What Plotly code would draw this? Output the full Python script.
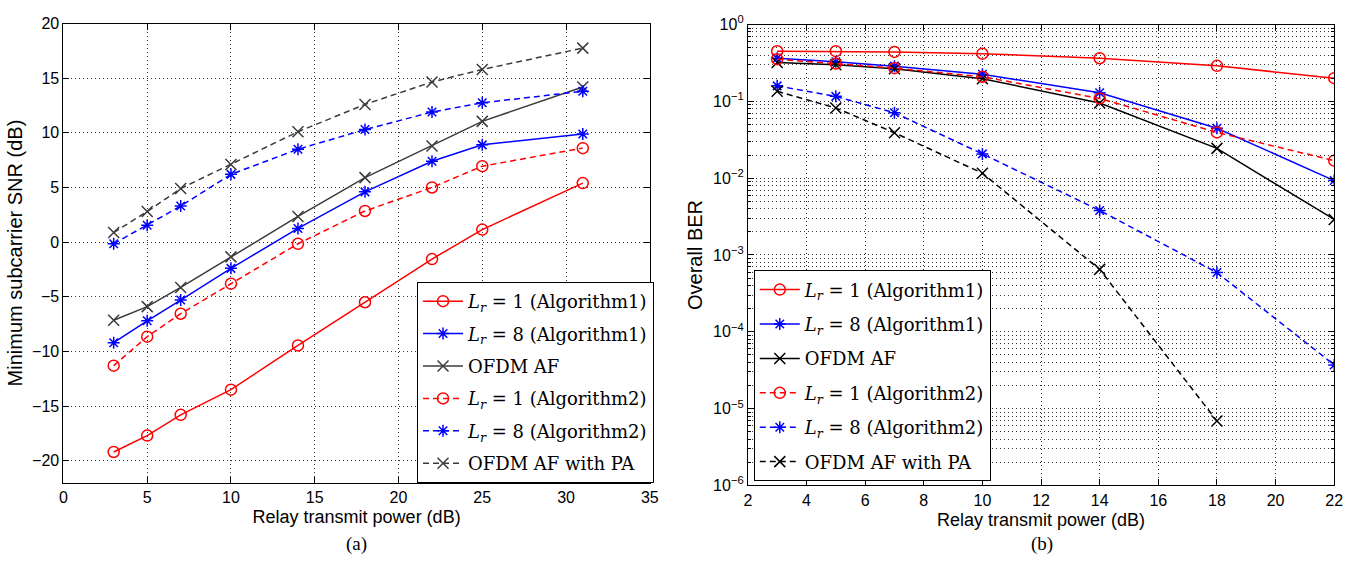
import plotly.graph_objects as go

# ---------------- data: panel (a) ----------------
snr_x = [3, 5, 7, 10, 14, 18, 22, 25, 31]
snr_lr1_alg1 = [-19.2, -17.7, -15.8, -13.5, -9.45, -5.5, -1.55, 1.15, 5.4]
snr_lr8_alg1 = [-9.2, -7.2, -5.3, -2.4, 1.25, 4.6, 7.4, 8.9, 9.9]
snr_ofdm_af = [-7.15, -5.9, -4.15, -1.35, 2.35, 5.9, 8.8, 11.05, 14.2]
snr_lr1_alg2 = [-11.3, -8.65, -6.55, -3.8, -0.15, 2.85, 5.0, 6.95, 8.6]
snr_lr8_alg2 = [-0.15, 1.55, 3.3, 6.2, 8.5, 10.3, 11.9, 12.75, 13.8]
snr_ofdm_pa = [0.88, 2.8, 4.9, 7.1, 10.1, 12.6, 14.65, 15.8, 17.75]

# ---------------- data: panel (b) ----------------
ber_x = [3, 5, 7, 10, 14, 18, 22]
ber_lr1_alg1 = [0.45, 0.45, 0.44, 0.417, 0.364, 0.29, 0.20]
ber_lr8_alg1 = [0.364, 0.327, 0.287, 0.225, 0.129, 0.0447, 0.0093]
ber_ofdm_af = [0.32, 0.30, 0.265, 0.197, 0.095, 0.0244, 0.0029]
ber_lr1_alg2 = [0.354, 0.31, 0.27, 0.209, 0.109, 0.0394, 0.0169]
ber_lr8_alg2 = [0.159, 0.116, 0.071, 0.0207, 0.0038, 0.00059, 0.000037]
ber_pa_x = [3, 5, 7, 10, 14, 18]
ber_ofdm_pa = [0.135, 0.082, 0.039, 0.0116, 0.00065, 0.0000069]

legend_names = [
    "<i>L</i><sub><i>r</i></sub> = 1 (Algorithm1)",
    "<i>L</i><sub><i>r</i></sub> = 8 (Algorithm1)",
    "OFDM AF",
    "<i>L</i><sub><i>r</i></sub> = 1 (Algorithm2)",
    "<i>L</i><sub><i>r</i></sub> = 8 (Algorithm2)",
    "OFDM AF with PA",
]

RED = "#ff0000"
BLUE = "#0000ff"
GRAY = "#3c3c3c"
BLACK = "#000000"
DASH = "6px,4px"

styles = [
    (RED, "solid", "circle-open", 11),
    (BLUE, "solid", "asterisk-open", 10),
    (None, "solid", "x-thin-open", 11),
    (RED, DASH, "circle-open", 11),
    (BLUE, DASH, "asterisk-open", 10),
    (None, DASH, "x-thin-open", 11),
]

fig = go.Figure()

left_series = [snr_lr1_alg1, snr_lr8_alg1, snr_ofdm_af, snr_lr1_alg2, snr_lr8_alg2, snr_ofdm_pa]
for i, ys in enumerate(left_series):
    col, dash, sym, sz = styles[i]
    col = col or GRAY
    fig.add_trace(go.Scatter(
        x=snr_x, y=ys, mode="lines+markers", name=legend_names[i],
        line=dict(color=col, width=1.5, dash=dash),
        marker=dict(symbol=sym, size=sz, color=col, line=dict(width=1.5, color=col)),
        xaxis="x", yaxis="y", legend="legend", legendgroup="a%d" % i,
    ))

right_series = [
    (ber_x, ber_lr1_alg1), (ber_x, ber_lr8_alg1), (ber_x, ber_ofdm_af),
    (ber_x, ber_lr1_alg2), (ber_x, ber_lr8_alg2), (ber_pa_x, ber_ofdm_pa),
]
for i, (xs, ys) in enumerate(right_series):
    col, dash, sym, sz = styles[i]
    col = col or BLACK
    fig.add_trace(go.Scatter(
        x=xs, y=ys, mode="lines+markers", name=legend_names[i],
        line=dict(color=col, width=1.5, dash=dash),
        marker=dict(symbol=sym, size=sz, color=col, line=dict(width=1.5, color=col)),
        xaxis="x2", yaxis="y2", legend="legend2", legendgroup="b%d" % i,
    ))

W, H = 1366, 561
SANS = "Liberation Sans, Arial, sans-serif"
SERIF = "DejaVu Serif, Liberation Serif, serif"
tickfont = dict(family=SANS, size=16, color="black")
xtitlefont = dict(family=SANS, size=18, color="black")
ytitlefont = dict(family=SANS, size=20, color="black")
gridc = "#333333"
GDASH = "1px,3px"

common = dict(
    showline=True, linecolor="black", linewidth=1, mirror="allticks",
    ticks="inside", ticklen=6, tickcolor="black", tickfont=tickfont,
    showgrid=True, gridcolor=gridc, griddash=GDASH, gridwidth=1, zeroline=False,
)

decades = [-6, -5, -4, -3, -2, -1, 0]
ber_tickvals = [10.0 ** d for d in decades]
ber_ticktext = ["10<sup>%s</sup>" % (str(d).replace("-", "\u2212")) for d in decades]
ber_minor = [m * 10.0 ** d for d in decades[:-1] for m in range(2, 10)]

fig.update_layout(
    width=W, height=H,
    margin=dict(l=0, r=0, t=0, b=0),
    paper_bgcolor="white", plot_bgcolor="white",
    xaxis=dict(domain=[60 / W, 652 / W], range=[0, 35], tickvals=[0, 5, 10, 15, 20, 25, 30, 35],
               title=dict(text="Relay transmit power (dB)", font=xtitlefont, standoff=5),
               anchor="y", **common),
    yaxis=dict(domain=[1 - 489 / H, 1 - 13 / H], range=[-22, 20],
               tickvals=[-20, -15, -10, -5, 0, 5, 10, 15, 20],
               ticktext=["\u221220", "\u221215", "\u221210", "\u22125", "0", "5", "10", "15", "20"],
               title=dict(text="Minimum subcarrier SNR (dB)", font=ytitlefont, standoff=4),
               anchor="x", **common),
    xaxis2=dict(domain=[751 / W, 1343 / W], range=[2, 22], tickvals=list(range(2, 23, 2)),
                title=dict(text="Relay transmit power (dB)", font=xtitlefont, standoff=5),
                anchor="y2", **common),
    yaxis2=dict(domain=[1 - 492 / H, 1 - 14 / H], type="log", range=[-6, 0],
                tickvals=ber_tickvals, ticktext=ber_ticktext,
                minor=dict(tickvals=ber_minor, ticks="inside", ticklen=3, tickcolor="black",
                           showgrid=True, gridcolor=gridc, griddash=GDASH, gridwidth=1),
                title=dict(text="Overall BER", font=ytitlefont, standoff=5),
                anchor="x2", **common),
    legend=dict(x=417 / W, y=1 - 281 / H, xanchor="left", yanchor="top",
                bgcolor="white", bordercolor="black", borderwidth=1,
                font=dict(family=SERIF, size=18, color="black"),
                tracegroupgap=6, itemwidth=40),
    legend2=dict(x=757 / W, y=1 - 269 / H, xanchor="left", yanchor="top",
                 bgcolor="white", bordercolor="black", borderwidth=1,
                 font=dict(family=SERIF, size=18, color="black"),
                 tracegroupgap=8, itemwidth=40),
    annotations=[
        dict(text="(a)", x=356 / W, y=1 - 553 / H, xref="paper", yref="paper", showarrow=False,
             xanchor="center", yanchor="middle",
             font=dict(family="Liberation Serif, serif", size=19, color="black")),
        dict(text="(b)", x=1048 / W, y=1 - 553 / H, xref="paper", yref="paper", showarrow=False,
             xanchor="center", yanchor="middle",
             font=dict(family="Liberation Serif, serif", size=19, color="black")),
    ],
)

fig.write_html("out.html")
